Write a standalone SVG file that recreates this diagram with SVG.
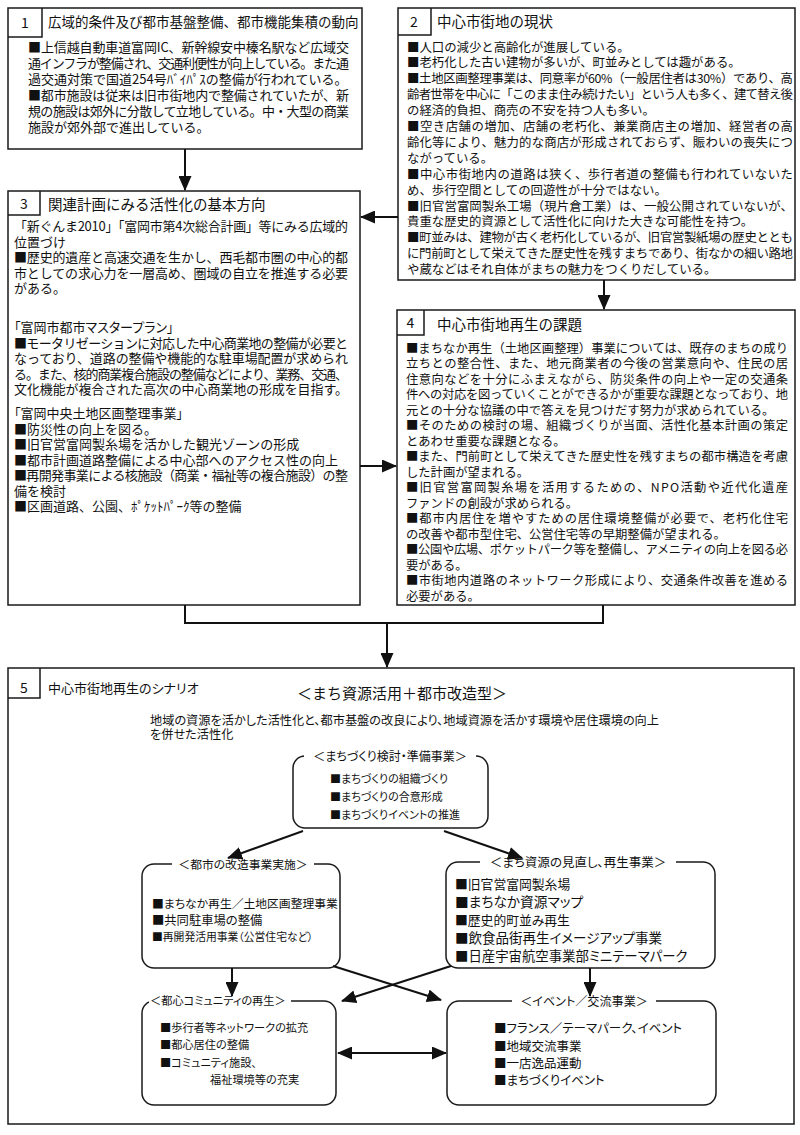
<svg xmlns="http://www.w3.org/2000/svg" width="800" height="1135" viewBox="0 0 800 1135">
<style>
.box{fill:#fff;stroke:#1a1a1a;stroke-width:1.5}
.cell{fill:none;stroke:#1a1a1a;stroke-width:1.5}
.t{font-family:"Noto Sans CJK JP","Noto Sans CJK SC",sans-serif;fill:#111}
.b13{font-size:13px}
.b124{font-size:12.4px}
.b123{font-size:12.3px}
.hd{font-size:14.5px}
.num{font-size:14px;text-anchor:middle}
.p{font-feature-settings:"palt"}
.node{fill:#fff;stroke:#1a1a1a;stroke-width:1.5}
.gap{fill:#fff;stroke:none}
.conn{fill:none;stroke:#111;stroke-width:2}
.mid{text-anchor:middle}
</style>
<defs>
<marker id="ah" markerUnits="userSpaceOnUse" markerWidth="15" markerHeight="13" viewBox="0 0 15 13" refX="14" refY="6.5" orient="auto-start-reverse">
<path d="M0,0 L15,6.5 L0,13 z" fill="#111"/>
</marker>
</defs>

<g id="box1">
<rect class="box" x="8" y="8" width="354" height="141"/>
<path class="cell" d="M42,8 V37 H8"/>
<text class="t num" x="25" y="27.5">1</text>
<text class="t" x="48" y="27" style="font-size:13.5px">広域的条件及び都市基盤整備、都市機能集積の動向</text>
<g class="t b13">
<text x="28" y="52" textLength="321" lengthAdjust="spacing">■上信越自動車道富岡IC、新幹線安中榛名駅など広域交</text>
<text x="28" y="68" textLength="321" lengthAdjust="spacing">通インフラが整備され、交通利便性が向上している。また通</text>
<text x="28" y="84">過交通対策で国道254号ﾊﾞｲﾊﾟｽの整備が行われている。</text>
<text x="28" y="100" textLength="321" lengthAdjust="spacing">■都市施設は従来は旧市街地内で整備されていたが、新</text>
<text x="28" y="116" textLength="321" lengthAdjust="spacing">規の施設は郊外に分散して立地している。中・大型の商業</text>
<text x="28" y="132">施設が郊外部で進出している。</text>
</g>
</g>

<g id="box2">
<rect class="box" x="398" y="8" width="397" height="272"/>
<path class="cell" d="M431,8 V35 H398"/>
<text class="t num" x="414" y="27">2</text>
<text class="t hd" x="437" y="26.5">中心市街地の現状</text>
<g class="t b124">
<text x="407" y="51.5">■人口の減少と高齢化が進展している。</text>
<text x="407" y="67.4">■老朽化した古い建物が多いが、町並みとしては趣がある。</text>
<text x="407" y="83.3" textLength="386" lengthAdjust="spacing">■土地区画整理事業は、同意率が60%（一般居住者は30%）であり、高</text>
<text x="407" y="99.2" textLength="386" lengthAdjust="spacing">齢者世帯を中心に「このまま住み続けたい」という人も多く、建て替え後</text>
<text x="407" y="115.1">の経済的負担、商売の不安を持つ人も多い。</text>
<text x="407" y="131" textLength="386" lengthAdjust="spacing">■空き店舗の増加、店舗の老朽化、兼業商店主の増加、経営者の高</text>
<text x="407" y="146.9" textLength="386" lengthAdjust="spacing">齢化等により、魅力的な商店が形成されておらず、賑わいの喪失につ</text>
<text x="407" y="162.8">ながっている。</text>
<text x="407" y="178.7" textLength="386" lengthAdjust="spacing">■中心市街地内の道路は狭く、歩行者道の整備も行われていないた</text>
<text x="407" y="194.6">め、歩行空間としての回遊性が十分ではない。</text>
<text x="407" y="210.5" textLength="386" lengthAdjust="spacing">■旧官営富岡製糸工場（現片倉工業）は、一般公開されていないが、</text>
<text x="407" y="226.4">貴重な歴史的資源として活性化に向けた大きな可能性を持つ。</text>
<text x="407" y="242.3" textLength="386" lengthAdjust="spacing">■町並みは、建物が古く老朽化しているが、旧官営製紙場の歴史ととも</text>
<text x="407" y="258.2" textLength="386" lengthAdjust="spacing">に門前町として栄えてきた歴史性を残すまちであり、街なかの細い路地</text>
<text x="407" y="274.1">や蔵などはそれ自体がまちの魅力をつくりだしている。</text>
</g>
</g>

<g id="box3">
<rect class="box" x="8" y="191" width="352" height="414"/>
<path class="cell" d="M40,191 V215 H8"/>
<text class="t num" x="24" y="209">3</text>
<text class="t hd" x="48" y="209.5">関連計画にみる活性化の基本方向</text>
<g class="t b13">
<text x="14" y="231" textLength="334" lengthAdjust="spacing">「新ぐんま2010」「富岡市第4次総合計画」等にみる広域的</text>
<text x="14" y="246.6">位置づけ</text>
<text x="14" y="262.2" textLength="334" lengthAdjust="spacing">■歴史的遺産と高速交通を生かし、西毛都市圏の中心的都</text>
<text x="14" y="277.8" textLength="334" lengthAdjust="spacing">市としての求心力を一層高め、圏域の自立を推進する必要</text>
<text x="14" y="293.4">がある。</text>
<text class="p" x="14" y="332">「富岡市都市マスタープラン」</text>
<text x="14" y="347.5" textLength="334" lengthAdjust="spacing">■モータリゼーションに対応した中心商業地の整備が必要と</text>
<text x="14" y="363" textLength="334" lengthAdjust="spacing">なっており、道路の整備や機能的な駐車場配置が求められ</text>
<text x="14" y="378.5" textLength="334" lengthAdjust="spacing">る。また、核的商業複合施設の整備などにより、業務、交通、</text>
<text x="14" y="394" textLength="334" lengthAdjust="spacing">文化機能が複合された高次の中心商業地の形成を目指す。</text>
<text class="p" x="14" y="418">「富岡中央土地区画整理事業」</text>
<text x="14" y="433.5">■防災性の向上を図る。</text>
<text x="14" y="449">■旧官営富岡製糸場を活かした観光ゾーンの形成</text>
<text x="14" y="464.5">■都市計画道路整備による中心部へのアクセス性の向上</text>
<text x="14" y="480" textLength="334" lengthAdjust="spacing">■再開発事業による核施設（商業・福祉等の複合施設）の整</text>
<text x="14" y="495.5">備を検討</text>
<text x="14" y="511">■区画道路、公園、ﾎﾟｹｯﾄﾊﾟｰｸ等の整備</text>
</g>
</g>

<g id="box4">
<rect class="box" x="397" y="310" width="398" height="295"/>
<path class="cell" d="M424,310 V335 H397"/>
<text class="t num" x="410.5" y="328">4</text>
<text class="t hd" x="437" y="330">中心市街地再生の課題</text>
<g class="t b123">
<text x="406" y="352.5" textLength="382" lengthAdjust="spacing">■まちなか再生（土地区画整理）事業については、既存のまちの成り</text>
<text x="406" y="368" textLength="382" lengthAdjust="spacing">立ちとの整合性、また、地元商業者の今後の営業意向や、住民の居</text>
<text x="406" y="383.5" textLength="382" lengthAdjust="spacing">住意向などを十分にふまえながら、防災条件の向上や一定の交通条</text>
<text x="406" y="399" textLength="382" lengthAdjust="spacing">件への対応を図っていくことができるかが重要な課題となっており、地</text>
<text x="406" y="414.5">元との十分な協議の中で答えを見つけだす努力が求められている。</text>
<text x="406" y="430" textLength="382" lengthAdjust="spacing">■そのための検討の場、組織づくりが当面、活性化基本計画の策定</text>
<text x="406" y="445.5">とあわせ重要な課題となる。</text>
<text x="406" y="461" textLength="382" lengthAdjust="spacing">■また、門前町として栄えてきた歴史性を残すまちの都市構造を考慮</text>
<text x="406" y="476.5">した計画が望まれる。</text>
<text x="406" y="492" textLength="382" lengthAdjust="spacing">■旧官営富岡製糸場を活用するための、NPO活動や近代化遺産</text>
<text x="406" y="507.5">ファンドの創設が求められる。</text>
<text x="406" y="523" textLength="382" lengthAdjust="spacing">■都市内居住を増やすための居住環境整備が必要で、老朽化住宅</text>
<text x="406" y="538.5">の改善や都市型住宅、公営住宅等の早期整備が望まれる。</text>
<text x="406" y="554" textLength="382" lengthAdjust="spacing">■公園や広場、ポケットパーク等を整備し、アメニティの向上を図る必</text>
<text x="406" y="569.5">要がある。</text>
<text x="406" y="585" textLength="382" lengthAdjust="spacing">■市街地内道路のネットワーク形成により、交通条件改善を進める</text>
<text x="406" y="600.5">必要がある。</text>
</g>
</g>

<g id="box5">
<rect class="box" x="8" y="668" width="786" height="456"/>
<path class="cell" d="M40,668 V698 H8"/>
<text class="t num" x="24" y="693">5</text>
<text class="t p" x="48" y="692.5" style="font-size:13px">中心市街地再生のシナリオ</text>
<text class="t mid" x="402" y="698.5" style="font-size:15px">＜まち資源活用＋都市改造型＞</text>
<text class="t p" x="150" y="724.5" style="font-size:12.2px">地域の資源を活かした活性化と、都市基盤の改良により、地域資源を活かす環境や居住環境の向上</text>
<text class="t p" x="150" y="738.5" style="font-size:12.2px">を併せた活性化</text>
</g>

<g id="node-prep">
<rect class="node" x="293" y="756" width="195" height="72" rx="12"/>
<rect class="gap" x="304" y="751" width="172" height="10"/>
<text class="t p mid" x="390" y="760.5" style="font-size:12px">＜まちづくり検討・準備事業＞</text>
<g class="t p" style="font-size:11px">
<text x="330" y="783">■まちづくりの組織づくり</text>
<text x="330" y="801">■まちづくりの合意形成</text>
<text x="330" y="819">■まちづくりイベントの推進</text>
</g>
</g>

<g id="node-kaizo">
<rect class="node" x="142" y="864" width="198" height="104" rx="12"/>
<rect class="gap" x="172" y="859" width="142" height="10"/>
<text class="t p mid" x="243" y="868.5" style="font-size:11.8px">＜都市の改造事業実施＞</text>
<text class="t p" x="152" y="907.5" style="font-size:11.8px">■まちなか再生／土地区画整理事業</text>
<text class="t p" x="152" y="924.5" style="font-size:12.3px">■共同駐車場の整備</text>
<text class="t p" x="152" y="941" style="font-size:10.8px">■再開発活用事業（公営住宅など）</text>
</g>

<g id="node-shigen">
<rect class="node" x="446" y="862" width="269" height="106" rx="12"/>
<rect class="gap" x="480" y="857" width="196" height="10"/>
<text class="t p mid" x="578" y="866.5" style="font-size:12.5px">＜まち資源の見直し、再生事業＞</text>
<g class="t p">
<text x="455" y="889" style="font-size:12.8px">■旧官営富岡製糸場</text>
<text x="455" y="907" style="font-size:13.7px">■まちなか資源マップ</text>
<text x="455" y="925" style="font-size:12.8px">■歴史的町並み再生</text>
<text x="455" y="943" style="font-size:13.5px">■飲食品街再生イメージアップ事業</text>
<text x="455" y="961" style="font-size:13.4px">■日産宇宙航空事業部ミニテーマパーク</text>
</g>
</g>

<g id="node-community">
<rect class="node" x="142" y="1001" width="194" height="104" rx="12"/>
<rect class="gap" x="149" y="996" width="142" height="10"/>
<text class="t p" x="150" y="1005" style="font-size:11.2px">＜都心コミュニティの再生＞</text>
<g class="t p" style="font-size:11.2px">
<text x="160" y="1032">■歩行者等ネットワークの拡充</text>
<text x="160" y="1049">■都心居住の整備</text>
<text x="160" y="1067">■コミュニティ施設、</text>
<text x="210" y="1084">福祉環境等の充実</text>
</g>
</g>

<g id="node-event">
<rect class="node" x="447" y="1001" width="269" height="104" rx="12"/>
<rect class="gap" x="512" y="996" width="144" height="10"/>
<text class="t p mid" x="584" y="1005.5" style="font-size:12.1px">＜イベント／交流事業＞</text>
<g class="t p" style="font-size:12.5px">
<text x="494" y="1032.5">■フランス／テーマパーク、イベント</text>
<text x="494" y="1050.5">■地域交流事業</text>
<text x="494" y="1067.5">■一店逸品運動</text>
<text x="494" y="1084.5">■まちづくりイベント</text>
</g>
</g>

<g id="connectors">
<line class="conn" x1="185" y1="149" x2="185" y2="190" marker-end="url(#ah)"/>
<line class="conn" x1="398" y1="217" x2="361" y2="217" marker-end="url(#ah)"/>
<line class="conn" x1="604" y1="280" x2="604" y2="309" marker-end="url(#ah)"/>
<line class="conn" x1="360" y1="466" x2="396" y2="466" marker-end="url(#ah)"/>
<polyline class="conn" points="185,605 185,623 603,623 603,605"/>
<line class="conn" x1="387" y1="623" x2="387" y2="667" marker-end="url(#ah)"/>
<line class="conn" x1="303" y1="831" x2="228" y2="858" marker-end="url(#ah)"/>
<line class="conn" x1="444" y1="831" x2="522" y2="858" marker-end="url(#ah)"/>
<line class="conn" x1="232" y1="968" x2="232" y2="996" marker-end="url(#ah)"/>
<line class="conn" x1="590" y1="968" x2="590" y2="996" marker-end="url(#ah)"/>
<line class="conn" x1="333" y1="966" x2="441" y2="1000" marker-end="url(#ah)"/>
<line class="conn" x1="451" y1="966" x2="342" y2="1001" marker-end="url(#ah)"/>
<line class="conn" x1="338" y1="1053" x2="446" y2="1053" marker-start="url(#ah)" marker-end="url(#ah)"/>
</g>
</svg>
